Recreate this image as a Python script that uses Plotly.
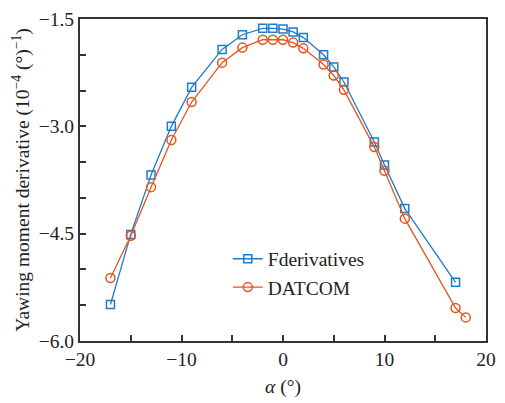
import plotly.graph_objects as go

alpha_f = [-17, -15, -13, -11, -9, -6, -4, -2, -1, 0, 1, 2, 4, 5, 6, 9, 10, 12, 17]
fderiv = [-5.49, -4.51, -3.68, -3.00, -2.455, -1.925, -1.72, -1.63, -1.63, -1.64, -1.68, -1.76,
          -2.00, -2.17, -2.38, -3.22, -3.54, -4.15, -5.18]

alpha_d = [-17, -15, -13, -11, -9, -6, -4, -2, -1, 0, 1, 2, 4, 5, 6, 9, 10, 12, 17, 18]
datcom = [-5.12, -4.53, -3.85, -3.19, -2.66, -2.11, -1.90, -1.79, -1.79, -1.79, -1.83, -1.91,
          -2.135, -2.29, -2.49, -3.29, -3.62, -4.29, -5.54, -5.67]

x_ticks = [-20, -10, 0, 10, 20]
y_ticks = [-6.0, -4.5, -3.0, -1.5]

BLUE = "#1F7BCB"
ORANGE = "#E4561E"
FONT = "Liberation Serif"
FS = 19.5

fig = go.Figure()
fig.add_trace(go.Scatter(
    x=alpha_f, y=fderiv, mode="lines+markers", name="Fderivatives",
    line=dict(color=BLUE, width=1.3),
    marker=dict(symbol="square-open", size=8, color=BLUE, line=dict(width=1.5, color=BLUE)),
))
fig.add_trace(go.Scatter(
    x=alpha_d, y=datcom, mode="lines+markers", name="DATCOM",
    line=dict(color=ORANGE, width=1.3),
    marker=dict(symbol="circle-open", size=9, color=ORANGE, line=dict(width=1.5, color=ORANGE)),
))

axis_common = dict(
    showline=True, linecolor="#333333", linewidth=2, mirror=True,
    ticks="inside", ticklen=6, tickwidth=1.5, tickcolor="#333333",
    showgrid=False, zeroline=False,
    tickfont=dict(family=FONT, size=FS, color="#222222"),
)

fig.update_xaxes(
    range=[-20, 20], tickvals=x_ticks, ticktext=[str(v).replace("-", "−") for v in x_ticks],
    minor=dict(dtick=5, ticks="inside", ticklen=6, tickwidth=1.5, tickcolor="#333333", showgrid=False),
    title=dict(text="<i>α</i> (°)", font=dict(family=FONT, size=FS, color="#222222"), standoff=10),
    **axis_common,
)
fig.update_yaxes(
    range=[-6.0, -1.5], tickvals=y_ticks, ticktext=[f"{v:.1f}".replace("-", "−") for v in y_ticks],
    minor=dict(dtick=0.5, tick0=-6.0, ticks="inside", ticklen=6, tickwidth=1.5, tickcolor="#333333", showgrid=False),
    title=dict(text="Yawing moment derivative (10<sup>−4</sup> (°)<sup>−1</sup>)",
               font=dict(family=FONT, size=FS, color="#222222"), standoff=4),
    **axis_common,
)

fig.update_layout(
    width=505, height=403,
    margin=dict(l=80, r=9, t=13, b=62),
    paper_bgcolor="white", plot_bgcolor="white",
    showlegend=True,
    legend=dict(x=0.364, y=0.315, xanchor="left", yanchor="top",
                bgcolor="rgba(0,0,0,0)", borderwidth=0,
                font=dict(family=FONT, size=FS, color="#222222"),
                tracegroupgap=0, itemwidth=30),
)

fig.write_html("out.html")
